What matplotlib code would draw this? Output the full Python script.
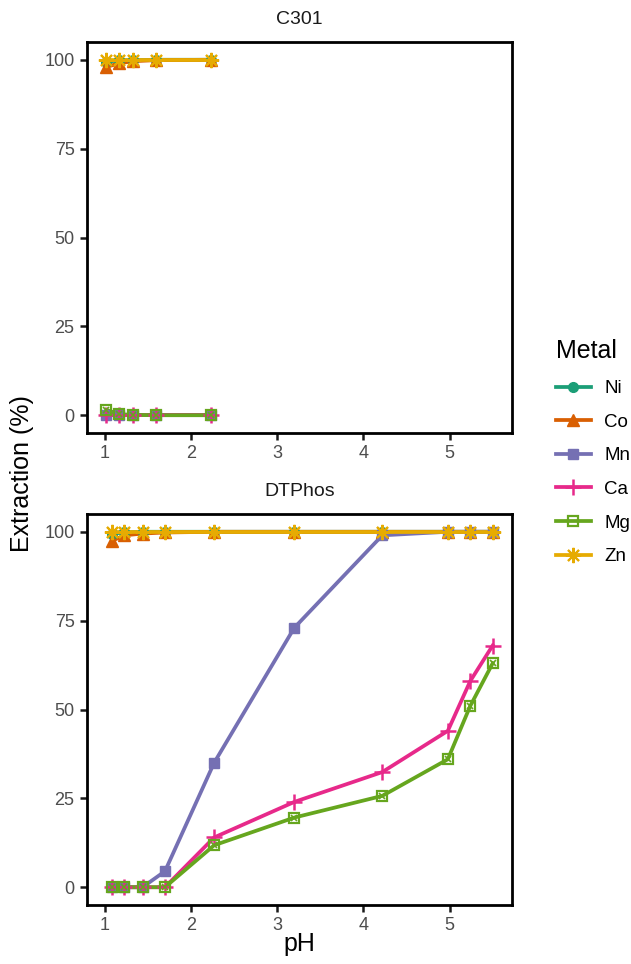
import matplotlib.pyplot as plt
from matplotlib.lines import Line2D

plt.rcParams['font.family'] = ['Liberation Sans', 'DejaVu Sans']

# extraction data, one list per metal
ph_c301 = [1.02, 1.17, 1.33, 1.60, 2.23]
c301_ni = [99.5, 99.8, 99.9, 100.0, 100.0]
c301_co = [98.0, 99.0, 99.6, 99.9, 100.0]
c301_mn = [0.0, 0.0, 0.0, 0.0, 0.0]
c301_ca = [0.0, 0.0, 0.0, 0.0, 0.0]
c301_mg = [1.5, 0.3, 0.1, 0.0, 0.0]
c301_zn = [100.0, 100.0, 100.0, 100.0, 100.0]

ph_dtp = [1.09, 1.23, 1.44, 1.70, 2.27, 3.20, 4.22, 4.98, 5.24, 5.50]
dtp_ni = [99.5, 99.8, 100.0, 100.0, 100.0, 100.0, 100.0, 100.0, 100.0, 100.0]
dtp_co = [97.5, 99.0, 99.5, 99.8, 100.0, 100.0, 100.0, 100.0, 100.0, 100.0]
dtp_mn = [0.0, 0.0, 0.0, 4.5, 35.0, 73.0, 99.0, 100.0, 100.0, 100.0]
dtp_ca = [0.0, 0.0, 0.0, 0.0, 14.0, 24.0, 32.4, 44.0, 58.0, 68.0]
dtp_mg = [0.0, 0.0, 0.0, 0.0, 11.8, 19.6, 25.7, 36.0, 51.0, 63.0]
dtp_zn = [100.0, 100.0, 100.0, 100.0, 100.0, 100.0, 100.0, 100.0, 100.0, 100.0]

metals = ['Ni', 'Co', 'Mn', 'Ca', 'Mg', 'Zn']
colors = {'Ni': '#1B9E77', 'Co': '#D95F02', 'Mn': '#7570B3',
          'Ca': '#E7298A', 'Mg': '#66A61E', 'Zn': '#E6AB02'}

panels = [
    ('C301', ph_c301, [c301_ni, c301_co, c301_mn, c301_ca, c301_mg, c301_zn]),
    ('DTPhos', ph_dtp, [dtp_ni, dtp_co, dtp_mn, dtp_ca, dtp_mg, dtp_zn]),
]

W, H = 631, 964
fig = plt.figure(figsize=(W / 100, H / 100), dpi=100)

LW = 2.7
MS = 7


def marker_style(m, c):
    # marker settings per metal, shared by the panels and the legend
    if m == 'Ni':
        return dict(marker='o', ms=MS, color=c)
    if m == 'Co':
        return dict(marker='^', ms=MS + 1, color=c)
    if m == 'Mn':
        return dict(marker='s', ms=MS - 0.5, color=c)
    if m == 'Ca':
        return dict(marker='+', ms=MS + 5, mew=1.8, color=c)
    if m == 'Mg':
        return dict(marker='s', mfc='none', mec=c, ms=MS, mew=1.6, color=c)
    return dict(marker=(8, 2, 0), ms=MS + 4, mew=1.5, color=c)


boxes = [(87, 42, 512, 433), (87, 514, 512, 905)]
for (title, ph, series), (x0, y0, x1, y1) in zip(panels, boxes):
    ax = fig.add_axes([x0 / W, 1 - y1 / H, (x1 - x0) / W, (y1 - y0) / H])
    for i, (m, vals) in enumerate(zip(metals, series)):
        ax.plot(ph, vals, '-', color=colors[m], lw=LW, zorder=2 + i * 0.01)
    # points go on top of all lines
    for i, (m, vals) in enumerate(zip(metals, series)):
        ax.plot(ph, vals, ls='none', zorder=3 + i * 0.01, **marker_style(m, colors[m]))
        if m == 'Mg':
            ax.plot(ph, vals, 'x', color=colors[m], ms=MS - 2.5, mew=1.2,
                    zorder=3 + i * 0.01)
    ax.set_xlim(0.796, 5.724)
    ax.set_ylim(-5, 105)
    ax.set_xticks([1, 2, 3, 4, 5])
    ax.set_yticks([0, 25, 50, 75, 100])
    ax.tick_params(length=5, width=1.8, color='#1A1A1A', labelsize=13,
                   labelcolor='#4D4D4D', pad=4)
    for s in ax.spines.values():
        s.set_linewidth(2.0)
        s.set_color('black')
    ax.set_title(title, fontsize=14, color='#1A1A1A', pad=13)

fig.text(22 / W, 1 - 474 / H, 'Extraction (%)', rotation=90, fontsize=18,
         ha='center', va='center')
fig.text(299 / W, 1 - 944 / H, 'pH', fontsize=18, ha='center', va='center')

handles = []
for m in metals:
    st = marker_style(m, colors[m])
    handles.append(Line2D([], [], label=m, lw=LW, **st))

leg = fig.legend(handles=handles, title='Metal', loc='upper left',
                 bbox_to_anchor=(548 / W, 1 - 332 / H), frameon=False,
                 fontsize=13.5, title_fontsize=18, handlelength=1.9,
                 labelspacing=0.88, handletextpad=0.7, borderaxespad=0)
leg._legend_box.align = 'left'

fig.savefig('out.png', dpi=100)
